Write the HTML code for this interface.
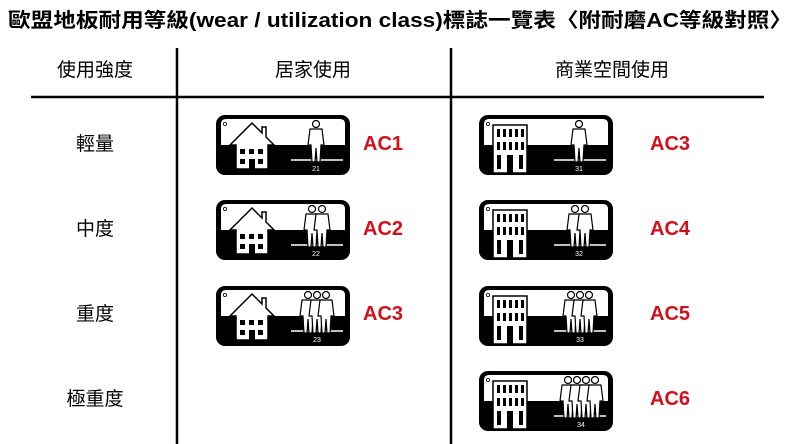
<!DOCTYPE html>
<html><head><meta charset="utf-8"><style>body{margin:0;background:#fff}svg{display:block}</style></head><body>
<svg width="800" height="444" viewBox="0 0 800 444" xmlns="http://www.w3.org/2000/svg" font-family="'Liberation Sans','Noto Sans CJK TC',sans-serif">
<defs>
<g id="badge">
<rect x="0" y="0" width="134" height="60" rx="9" fill="#000"/>
<path d="M5,30 V9 Q5,4 10,4 H124 Q129,4 129,9 V30 Z" fill="#fff"/>
<circle cx="9" cy="9" r="1.6" fill="none" stroke="#000" stroke-width="0.8"/>
<line x1="75" y1="45" x2="127" y2="45" stroke="#fff" stroke-width="1.5"/>
</g>
<g id="house">
<path d="M14,30 L36,8 L46,18 V12 H50 V22 L58,30 H52 V54 H20 V30 Z" fill="#fff" stroke="#000" stroke-width="1.5"/>
<rect x="24" y="34" width="5" height="5"/><rect x="33" y="34" width="5" height="5"/><rect x="42" y="34" width="5" height="5"/>
<rect x="24" y="44" width="5" height="5"/><rect x="42" y="44" width="5" height="5"/><rect x="33" y="44" width="6" height="10"/>
</g>
<g id="bldg">
<rect x="14" y="10" width="34" height="48" fill="#fff" stroke="#000" stroke-width="1.5"/>
<g fill="#000">
<rect x="18" y="14" width="3" height="8"/><rect x="24" y="14" width="3" height="8"/><rect x="30" y="14" width="3" height="8"/><rect x="36" y="14" width="3" height="8"/><rect x="42" y="14" width="3" height="8"/>
<rect x="18" y="27" width="3" height="8"/><rect x="24" y="27" width="3" height="8"/><rect x="30" y="27" width="3" height="8"/><rect x="36" y="27" width="3" height="8"/><rect x="42" y="27" width="3" height="8"/>
<rect x="18" y="40" width="4" height="14"/><rect x="28" y="40" width="6" height="18"/><rect x="40" y="40" width="4" height="14"/>
</g>
</g>
<g id="man">
<circle cx="0" cy="9" r="3.5" fill="#fff" stroke="#000" stroke-width="1.2"/>
<path d="M-6,14 H6 L8,30 H5 L4,47 H1 L0,33 L-1,47 H-4 L-5,30 H-8 Z" fill="#fff" stroke="#000" stroke-width="1.2"/>
</g>
</defs>
<text x="8" y="27" font-size="20" font-weight="bold" textLength="784" lengthAdjust="spacingAndGlyphs">歐盟地板耐用等級(wear / utilization class)標誌一覽表〈附耐磨AC等級對照〉</text>
<g font-size="19" text-anchor="middle">
<text x="95" y="76">使用強度</text><text x="313" y="76">居家使用</text><text x="612" y="76">商業空間使用</text>
<text x="95" y="150">輕量</text><text x="95" y="235">中度</text><text x="95" y="320">重度</text><text x="95" y="405">極重度</text>
</g>
<line x1="31" y1="97" x2="764" y2="97" stroke="#000" stroke-width="2.5"/>
<line x1="177" y1="48" x2="177" y2="444" stroke="#000" stroke-width="2.5"/>
<line x1="451" y1="48" x2="451" y2="444" stroke="#000" stroke-width="2.5"/>
<g font-size="20" font-weight="bold" fill="#d0101b">
<text x="363" y="150">AC1</text><text x="363" y="235">AC2</text><text x="363" y="320">AC3</text>
<text x="650" y="150">AC3</text><text x="650" y="235">AC4</text><text x="650" y="320">AC5</text><text x="650" y="405">AC6</text>
</g>
<!-- home badges -->
<g transform="translate(216,115)"><use href="#badge"/><use href="#house"/><use href="#man" x="100"/><text x="100" y="56" font-size="7" fill="#fff" text-anchor="middle">21</text></g>
<g transform="translate(216,200)"><use href="#badge"/><use href="#house"/><use href="#man" x="96"/><use href="#man" x="106"/><text x="100" y="56" font-size="7" fill="#fff" text-anchor="middle">22</text></g>
<g transform="translate(216,286)"><use href="#badge"/><use href="#house"/><use href="#man" x="92"/><use href="#man" x="101"/><use href="#man" x="110"/><text x="101" y="56" font-size="7" fill="#fff" text-anchor="middle">23</text></g>
<!-- commercial badges -->
<g transform="translate(479,115)"><use href="#badge"/><use href="#bldg"/><use href="#man" x="100"/><text x="100" y="56" font-size="7" fill="#fff" text-anchor="middle">31</text></g>
<g transform="translate(479,200)"><use href="#badge"/><use href="#bldg"/><use href="#man" x="96"/><use href="#man" x="106"/><text x="100" y="56" font-size="7" fill="#fff" text-anchor="middle">32</text></g>
<g transform="translate(479,286)"><use href="#badge"/><use href="#bldg"/><use href="#man" x="92"/><use href="#man" x="101"/><use href="#man" x="110"/><text x="101" y="56" font-size="7" fill="#fff" text-anchor="middle">33</text></g>
<g transform="translate(479,371)"><use href="#badge"/><use href="#bldg"/><use href="#man" x="89"/><use href="#man" x="98"/><use href="#man" x="107"/><use href="#man" x="116"/><text x="102" y="56" font-size="7" fill="#fff" text-anchor="middle">34</text></g>
</svg>
</body></html>
